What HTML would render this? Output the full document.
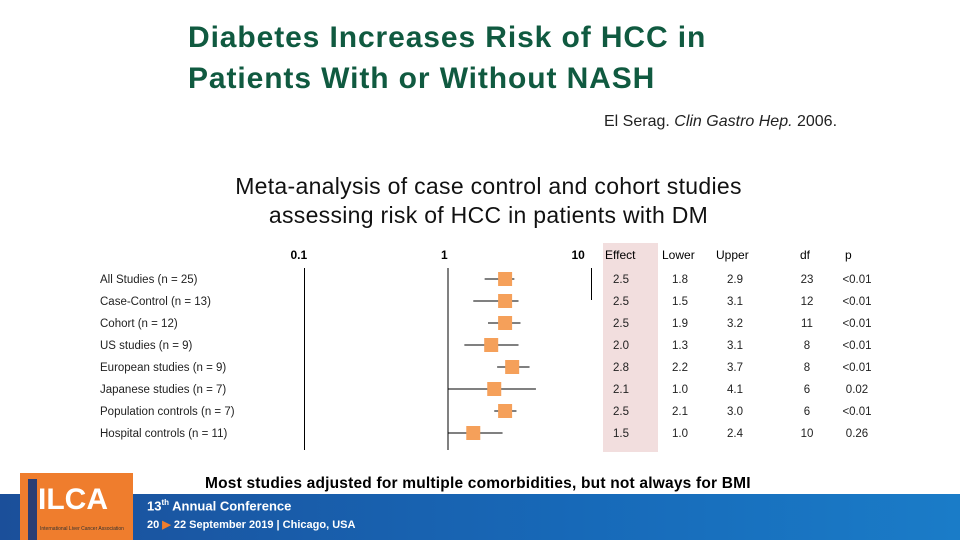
<!DOCTYPE html>
<html><head><meta charset="utf-8"><style>
body{margin:0;width:960px;height:540px;overflow:hidden;background:#fff;font-family:"Liberation Sans",sans-serif;position:relative}
.a{position:absolute;white-space:nowrap}
</style></head><body>
<div class="a" style="left:188px;top:17px;font-size:30px;font-weight:bold;letter-spacing:0.9px;line-height:41px;color:#105a40">Diabetes Increases Risk of HCC in<br>Patients With or Without NASH</div>
<div class="a" style="left:604px;top:113px;font-size:16px;color:#222">El Serag. <i>Clin Gastro Hep.</i> 2006.</div>
<div class="a" style="left:0;width:977px;top:172px;font-size:23px;letter-spacing:0.3px;line-height:29px;text-align:center;color:#111">Meta-analysis of case control and cohort studies<br>assessing risk of HCC in patients with DM</div>
<div class="a" style="left:603px;top:243px;width:55px;height:209px;background:#f2dede"></div>
<svg id="c" class="a" style="left:0;top:0" width="960" height="540"></svg>
<div class="a" style="left:205px;top:475px;font-size:15.5px;font-weight:bold;letter-spacing:0.2px;color:#000">Most studies adjusted for multiple comorbidities, but not always for BMI</div>
<div class="a" style="left:0;top:494px;width:960px;height:46px;background:linear-gradient(90deg,#1b4f9a,#1769b8 60%,#1a7cc8)"></div>
<div class="a" style="left:20px;top:473px;width:113px;height:67px;background:#ef7d2d"><div class="a" style="left:8px;top:6px;width:9px;height:61px;background:#2a3e74"></div><div class="a" style="left:18px;top:10px;font-size:30px;font-weight:bold;color:#fff">ILCA</div><div class="a" style="left:20px;top:53px;font-size:5px;color:#333">International Liver Cancer Association</div></div>
<div class="a" style="left:147px;top:498px;font-size:13px;font-weight:bold;color:#fff">13<sup style="font-size:8px">th</sup> Annual Conference</div>
<div class="a" style="left:147px;top:518px;font-size:11px;font-weight:bold;color:#fff">20 <span style="color:#ef7d2d">▶</span> 22 September 2019 | Chicago, USA</div>
<script>
const labels=["All Studies (n = 25)","Case-Control (n = 13)","Cohort (n = 12)","US studies (n = 9)","European studies (n = 9)","Japanese studies (n = 7)","Population controls (n = 7)","Hospital controls (n = 11)"];
const effect=[2.5,2.5,2.5,2.0,2.8,2.1,2.5,1.5];
const lower=[1.8,1.5,1.9,1.3,2.2,1.0,2.1,1.0];
const upper=[2.9,3.1,3.2,3.1,3.7,4.1,3.0,2.4];
const df=[23,12,11,8,8,6,6,10];
const pvals=["<0.01","<0.01","<0.01","<0.01","<0.01","0.02","<0.01","0.26"];
const ticks=[0.1,1,10];
const svg=document.getElementById('c');const NS="http://www.w3.org/2000/svg";
const X=v=>448+143.5*Math.log10(v);const Y=i=>279+22*i;
function mk(t,a,txt){const e=document.createElementNS(NS,t);for(const k in a)e.setAttribute(k,a[k]);if(txt!=null)e.textContent=txt;svg.appendChild(e);return e;}
ticks.forEach((t,i)=>{
 const l=mk('line',{x1:X(t),x2:X(t),y1:268,y2:i==2?300:450,stroke:'#000','stroke-width':1});
 
 
 const tx=mk('text',{x:X(t)+[-14,-7,-20][i],y:259,'font-size':12,'font-weight':'bold','font-family':'Liberation Sans'},String(t));
 
 
});
const hdr=[["Effect",605],["Lower",662],["Upper",716],["df",800],["p",845]];
hdr.forEach(h=>{const t=mk('text',{x:h[1],y:259,'font-size':12,'font-family':'Liberation Sans'},h[0]);
 
 });
labels.forEach((lab,i)=>{
 const y=Y(i);
 const t=mk('text',{x:100,y:y+4,'font-size':11.5,'font-family':'Liberation Sans',fill:'#222'},lab);
 
 
 const ci=mk('line',{x1:X(lower[i]),x2:X(upper[i]),y1:y,y2:y,stroke:'#000','stroke-width':1});
 
 
 const s=mk('rect',{x:X(effect[i])-7,y:y-7,width:14,height:14,fill:'#f5a05a'});
 
 
 [[effect[i].toFixed(1),621],[lower[i].toFixed(1),680],[upper[i].toFixed(1),735],[String(df[i]),807],[pvals[i],857]].forEach(c=>{
  const v=mk('text',{x:c[1],y:y+4,'font-size':11.5,'font-family':'Liberation Sans','text-anchor':'middle',fill:'#222'},c[0]);
  
  
 });
});
</script>
</body></html>
